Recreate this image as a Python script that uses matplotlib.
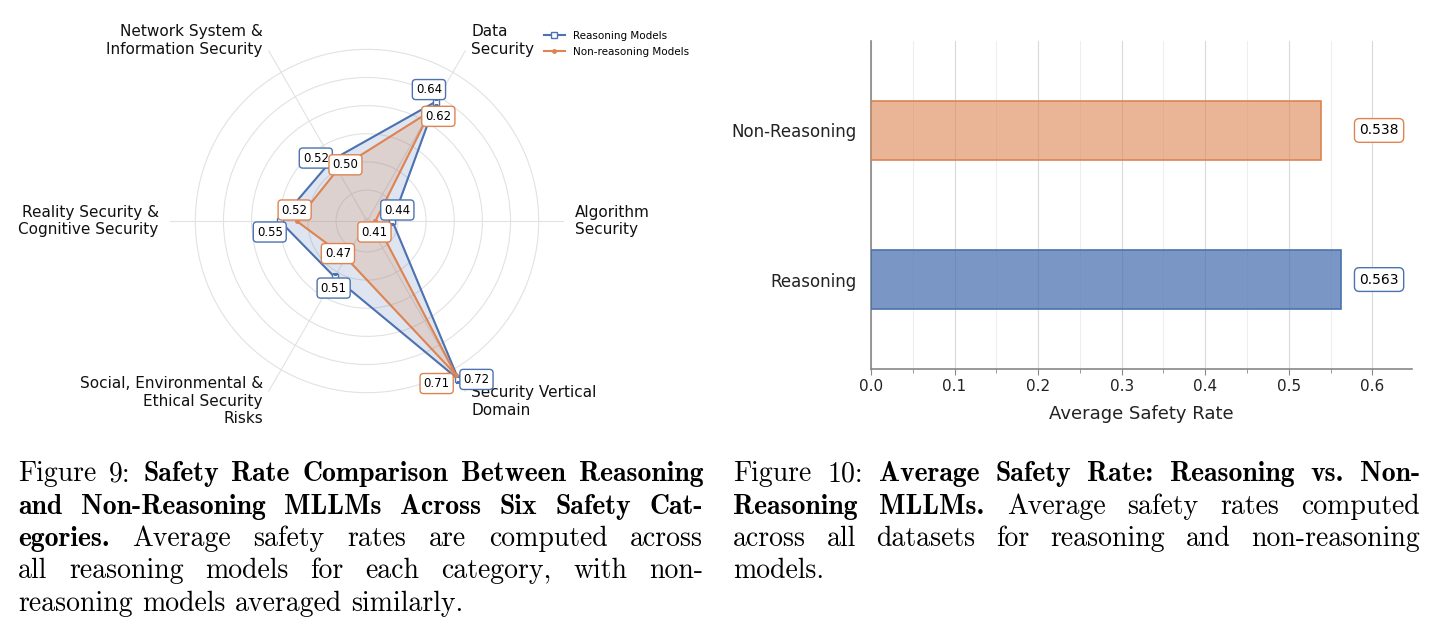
import numpy as np
import matplotlib
matplotlib.use("Agg")
import matplotlib.pyplot as plt
from matplotlib.colors import to_rgba

# ---- data ----
categories = [
    "Algorithm\nSecurity",
    "Data\nSecurity",
    "Network System &\nInformation Security",
    "Reality Security &\nCognitive Security",
    "Social, Environmental &\nEthical Security\nRisks",
    "Security Vertical\nDomain",
]
reasoning_scores = [0.44, 0.64, 0.52, 0.55, 0.51, 0.72]
non_reasoning_scores = [0.41, 0.62, 0.50, 0.52, 0.47, 0.71]

groups = ["Reasoning", "Non-Reasoning"]
avg_rates = [0.563, 0.538]

caption_left = [
    [("Figure 9:", False), ("Safety Rate Comparison Between Reasoning", True)],
    [("and Non-Reasoning MLLMs Across Six Safety Cat-", True)],
    [("egories.", True), ("Average safety rates are computed across", False)],
    [("all reasoning models for each category, with non-", False)],
    [("reasoning models averaged similarly.", False)],
]
caption_right = [
    [("Figure 10:", False), ("Average Safety Rate: Reasoning vs. Non-", True)],
    [("Reasoning MLLMs.", True), ("Average safety rates computed", False)],
    [("across all datasets for reasoning and non-reasoning", False)],
    [("models.", False)],
]

# label offsets (pixels) for the radar value boxes
reasoning_offsets = [(5, 11), (-7, 12), (-16, 2), (-10, -11), (-1, -11), (18, 0)]
non_reasoning_offsets = [(-1, -11), (8, -5), (8, 5), (-2, 11), (-8, 4), (-19, -9)]

BLUE = "#4C72B0"
ORANGE = "#DD8452"
W, H = 1431, 635

fig = plt.figure(figsize=(W / 100, H / 100), dpi=100)


def px_box(left, top, right, bottom):
    return [left / W, 1 - bottom / H, (right - left) / W, (bottom - top) / H]


# ---- radar chart ----
ax = fig.add_axes(px_box(170, 24, 564, 418), projection="polar")
angles = np.linspace(0, 2 * np.pi, len(categories), endpoint=False)
closed = np.concatenate([angles, angles[:1]])
r_vals = reasoning_scores + reasoning_scores[:1]
n_vals = non_reasoning_scores + non_reasoning_scores[:1]

ax.set_ylim(0.395, 0.745)
ax.set_yticks(np.arange(0.40, 0.701, 0.05))
ax.set_yticklabels([])
ax.set_xticks(angles)
ax.set_xticklabels([])
ax.grid(color="#e2e2e2", lw=0.8)
ax.spines["polar"].set_visible(False)

ax.fill(closed, r_vals, color=BLUE, alpha=0.18, zorder=2)
ax.plot(closed, r_vals, color=BLUE, lw=1.5, marker="s", ms=4,
        mfc="white", mec=BLUE, label="Reasoning Models", zorder=3)
ax.fill(closed, n_vals, color=ORANGE, alpha=0.2, zorder=2)
ax.plot(closed, n_vals, color=ORANGE, lw=1.5, marker="o", ms=2.5,
        label="Non-reasoning Models", zorder=3)

for ang, cat in zip(angles, categories):
    c = np.cos(ang)
    ha = "left" if c > 0.1 else ("right" if c < -0.1 else "center")
    ax.text(ang, 0.765, cat, ha=ha, va="center", multialignment=ha,
            fontsize=11, color="#111111")

for scores, offsets, col in [(reasoning_scores, reasoning_offsets, BLUE),
                             (non_reasoning_scores, non_reasoning_offsets, ORANGE)]:
    for ang, v, off in zip(angles, scores, offsets):
        ax.annotate(f"{v:.2f}", xy=(ang, v), xytext=off, textcoords="offset pixels",
                    ha="center", va="center", fontsize=8.5, zorder=6,
                    bbox=dict(boxstyle="round,pad=0.3", fc="white", ec=col, lw=1))

handles, labels = ax.get_legend_handles_labels()
fig.legend(handles, labels, loc="upper left", bbox_to_anchor=(544 / W, 1 - 31 / H),
           frameon=False, fontsize=7.5, handlelength=2, handletextpad=0.8,
           labelspacing=0.55, borderpad=0, borderaxespad=0)

# ---- bar chart ----
bx = fig.add_axes(px_box(871, 41, 1412, 369))
ypos = np.arange(len(groups))
bar_cols = [BLUE, ORANGE]
bar_fill = [to_rgba(BLUE, 0.74), to_rgba(ORANGE, 0.6)]
bx.barh(ypos, avg_rates, height=0.4, color=bar_fill,
        edgecolor=bar_cols, lw=1.2, zorder=3)
top = max(avg_rates)
bx.set_xlim(0, top * 1.15)
bx.set_ylim(-0.6, 1.6)
bx.set_yticks(ypos)
bx.set_yticklabels(groups, fontsize=12, color="#222222")
bx.set_xticks(np.arange(0, 0.61, 0.1))
bx.set_xticks(np.arange(0.05, 0.65, 0.1), minor=True)
bx.xaxis.set_major_formatter(matplotlib.ticker.FormatStrFormatter("%.1f"))
bx.tick_params(axis="x", which="major", length=4, color="#888888", labelsize=11,
               labelcolor="#222222", pad=3)
bx.tick_params(axis="x", which="minor", length=3, color="#888888")
bx.tick_params(axis="y", length=0, pad=10)
bx.grid(axis="x", which="major", color="#d9d9d9", lw=0.8, zorder=0)
bx.grid(axis="x", which="minor", color="#eeeeee", lw=0.8, zorder=0)
bx.set_axisbelow(True)
for s in ["top", "right"]:
    bx.spines[s].set_visible(False)
for s in ["left", "bottom"]:
    bx.spines[s].set_color("#888888")
    bx.spines[s].set_linewidth(1.2)
bx.set_xlabel("Average Safety Rate", fontsize=13, color="#222222", labelpad=8)

for y, v, c in zip(ypos, avg_rates, bar_cols):
    bx.text(top * 1.08, y, f"{v:.3f}", ha="center", va="center", fontsize=10,
            bbox=dict(boxstyle="round,pad=0.35", fc="white", ec=c, lw=1))

# ---- captions (justified like LaTeX) ----
CAP_SIZE = 20
renderer = fig.canvas.get_renderer()


def caption_line(segments, x0, x1, baseline, justify):
    items = []
    for text, bold in segments:
        for word in text.split():
            t = fig.text(0, 1 - baseline / H, word, fontsize=CAP_SIZE, va="baseline",
                         ha="left", family="cmb10" if bold else "cmr10", color="black")
            items.append(t)
    widths = [t.get_window_extent(renderer).width for t in items]
    if justify and len(items) > 1:
        gap = (x1 - x0 - sum(widths)) / (len(items) - 1)
    else:
        gap = 0.333 * CAP_SIZE / 72 * 100
    x = x0
    for t, w in zip(items, widths):
        t.set_x(x / W)
        x += w + gap


def caption(lines, x0, x1, first_baseline, step=32.5):
    for i, segs in enumerate(lines):
        caption_line(segs, x0, x1, first_baseline + i * step, i < len(lines) - 1)


caption(caption_left, 18, 703, 481)
caption(caption_right, 733, 1420, 481)

fig.savefig("out.png", dpi=100)
